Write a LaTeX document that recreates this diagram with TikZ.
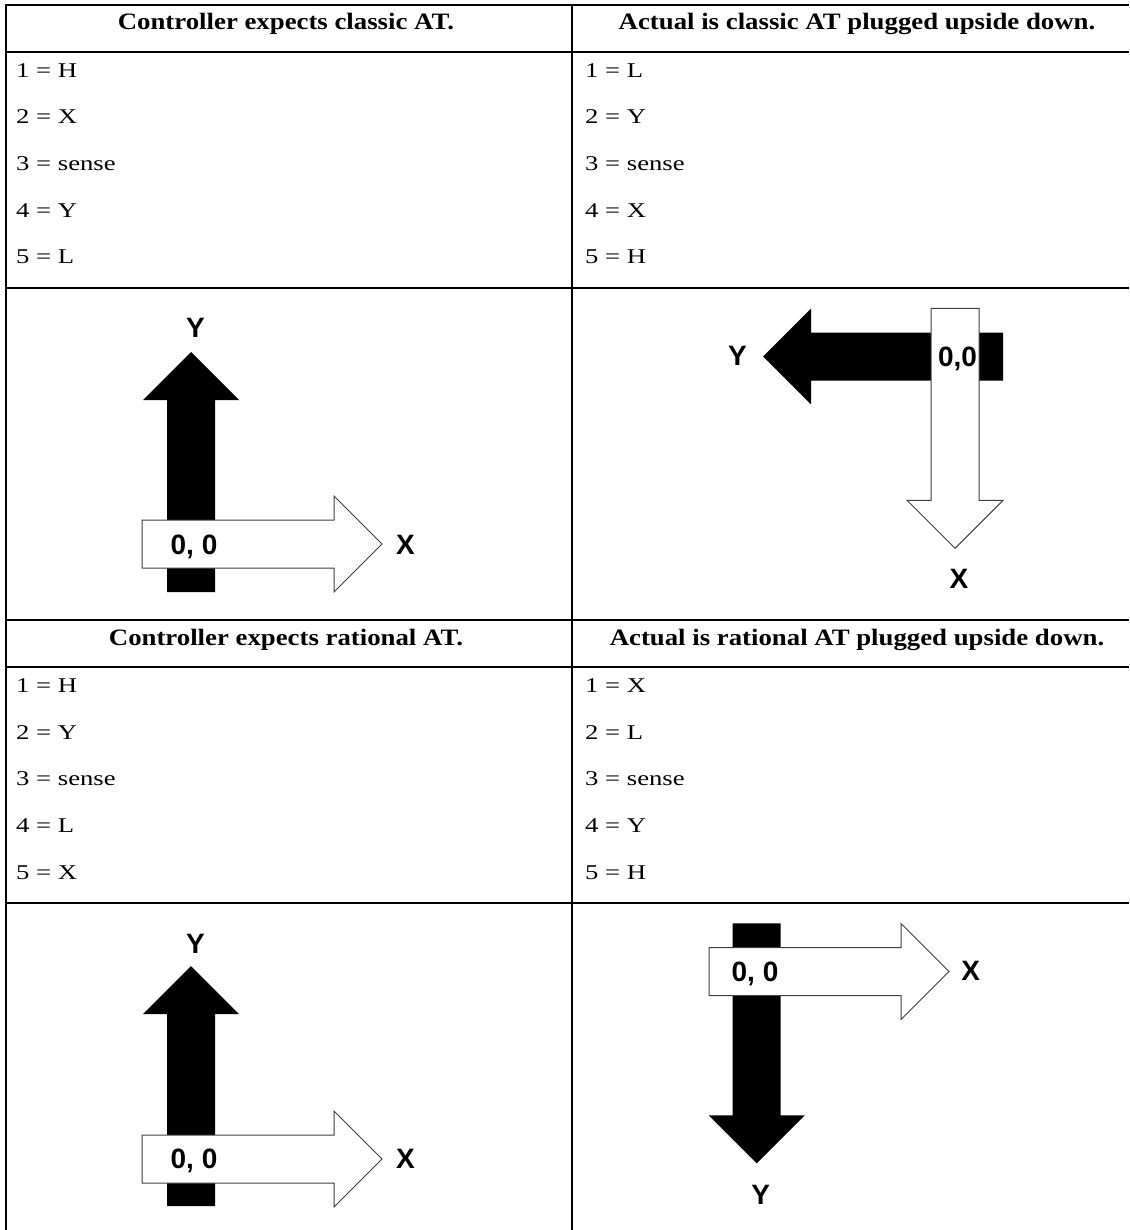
\documentclass[tikz,border=0pt]{standalone}
\usepackage{fontspec}
\setmainfont{Liberation Serif}
\newfontfamily\cellfont[FakeStretch=1.27]{Liberation Serif}
\newfontfamily\headfont[FakeStretch=1.14]{Liberation Serif}
\newfontfamily\labelfont{Liberation Sans}
\newcommand{\blockarr}[4]{%
  \path[#1, shift={(#2,#3)}, rotate=#4]
    (0,-24) -- (192,-24) -- (192,-48) -- (240,0) -- (192,48) -- (192,24) -- (0,24) -- cycle;}
\begin{document}
\begin{tikzpicture}[x=1pt,y=-1pt,
  grid/.style={line width=2.2pt},
  headtxt/.style={anchor=base, inner sep=0pt, font=\headfont\bfseries\fontsize{23.5}{27}\selectfont},
  celltxt/.style={anchor=base west, inner sep=0pt, font=\cellfont\fontsize{21}{25}\selectfont},
  axistxt/.style={anchor=base, inner sep=0pt, font=\labelfont\bfseries\fontsize{28}{32}\selectfont},
  blackarrow/.style={fill=black},
  whitearrow/.style={fill=white, draw=black!75, line width=1pt}]
\useasboundingbox (0,0) rectangle (1129,1230);
% table grid
\draw[grid] (6,5) -- (1129,5);
\draw[grid] (6,52) -- (1129,52);
\draw[grid] (6,288) -- (1129,288);
\draw[grid] (6,620) -- (1129,620);
\draw[grid] (6,667) -- (1129,667);
\draw[grid] (6,903) -- (1129,903);
\draw[grid] (6,4) -- (6,1230);
\draw[grid] (572,4) -- (572,1230);
% headers
\node[headtxt] (h1) at (286,30) {Controller expects classic AT.};
\node[headtxt] (h2) at (857,30) {Actual is classic AT plugged upside down.};
\node[headtxt] (h3) at (286,645) {Controller expects rational AT.};
\node[headtxt] (h4) at (857,645) {Actual is rational AT plugged upside down.};
% section 1 cells
\node[celltxt] (a1) at (16,77.5) {1 = H};
\node[celltxt] (a2) at (16,124) {2 = X};
\node[celltxt] (a3) at (16,170.7) {3 = sense};
\node[celltxt] (a4) at (16,217.3) {4 = Y};
\node[celltxt] (a5) at (16,264) {5 = L};
\node[celltxt] (b1) at (585,77.5) {1 = L};
\node[celltxt] (b2) at (585,124) {2 = Y};
\node[celltxt] (b3) at (585,170.7) {3 = sense};
\node[celltxt] (b4) at (585,217.3) {4 = X};
\node[celltxt] (b5) at (585,264) {5 = H};
% section 2 cells
\node[celltxt] (c1) at (16,692.5) {1 = H};
\node[celltxt] (c2) at (16,739) {2 = Y};
\node[celltxt] (c3) at (16,785.7) {3 = sense};
\node[celltxt] (c4) at (16,832.3) {4 = L};
\node[celltxt] (c5) at (16,879) {5 = X};
\node[celltxt] (d1) at (585,692.5) {1 = X};
\node[celltxt] (d2) at (585,739) {2 = L};
\node[celltxt] (d3) at (585,785.7) {3 = sense};
\node[celltxt] (d4) at (585,832.3) {4 = Y};
\node[celltxt] (d5) at (585,879) {5 = H};
% panel 1
\blockarr{blackarrow}{191}{592}{90}
\blockarr{whitearrow}{142}{544}{0}
\node[axistxt] (p1y) at (195.5,337.5) {Y};
\node[axistxt] (p1o) at (194,554.3) {0, 0};
\node[axistxt] (p1x) at (405.5,554.3) {X};
% panel 2
\blockarr{blackarrow}{1003}{356.5}{180}
\blockarr{whitearrow}{955}{308.3}{-90}
\node[axistxt] (p2y) at (737.5,365) {Y};
\node[axistxt] (p2o) at (957.5,366.7) {0,0};
\node[axistxt] (p2x) at (959,588.3) {X};
% panel 3
\blockarr{blackarrow}{191}{1206}{90}
\blockarr{whitearrow}{142}{1159}{0}
\node[axistxt] (p3y) at (195.5,953.3) {Y};
\node[axistxt] (p3o) at (194,1168.3) {0, 0};
\node[axistxt] (p3x) at (405.5,1168.3) {X};
% panel 4
\blockarr{blackarrow}{756.7}{923.3}{-90}
\blockarr{whitearrow}{709}{971.5}{0}
\node[axistxt] (p4o) at (755,981.7) {0, 0};
\node[axistxt] (p4x) at (970.8,980.7) {X};
\node[axistxt] (p4y) at (760.7,1204) {Y};
\end{tikzpicture}
\end{document}
